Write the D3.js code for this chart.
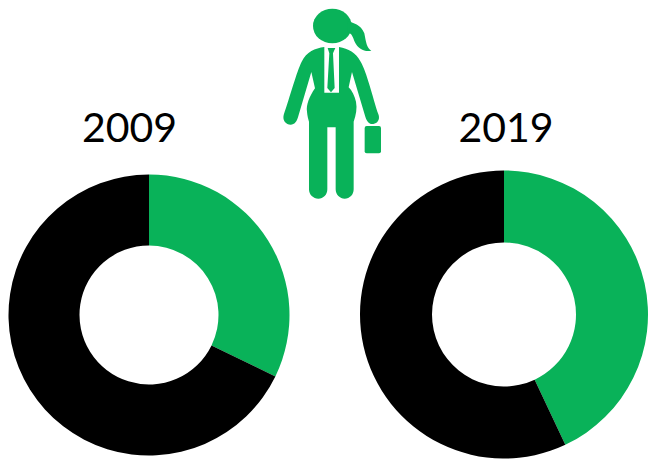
<!DOCTYPE html>
<html><head><meta charset="utf-8">
<script src="https://cdnjs.cloudflare.com/ajax/libs/d3/7.8.5/d3.min.js"></script>
<style>html,body{margin:0;padding:0;background:#fff}svg{display:block}</style>
</head><body>
<svg id="c" width="648" height="459"></svg>
<script>
const years = ["2009", "2019"];
const womenShare = [32.2, 43];
const otherShare = [67.8, 57];
const seriesColors = ["#09b259", "#000000"];
const cx = [149, 504];
const cy = [315, 314.5];
const outer = [140.5, 144];
const inner = [69.5, 72];
const titleX = [129.5, 506];

const svg = d3.select("#c");
const pie = d3.pie().sort(null);
years.forEach((y, i) => {
  const g = svg.append("g").attr("transform", `translate(${cx[i]},${cy[i]})`);
  const arc = d3.arc().innerRadius(inner[i]).outerRadius(outer[i]);
  g.selectAll("path").data(pie([womenShare[i], otherShare[i]])).join("path")
    .attr("d", arc).attr("fill", (d, j) => seriesColors[j]);
  svg.append("text").attr("x", titleX[i]).attr("y", 141.5)
    .attr("text-anchor", "middle").attr("font-family", "Lato").attr("font-weight", 400)
    .attr("font-size", 41).attr("fill", "#000").text(y);
});

// Pictogram of a woman with a briefcase
const icon = svg.append("g").attr("transform", "translate(270,0) scale(0.3333)").attr("fill", seriesColors[0]);
icon.append("ellipse").attr("cx", 187).attr("cy", 78).attr("rx", 58).attr("ry", 52);
icon.append("path").attr("d", "M232,62 C250,70 272,72 283,100 C288,125 290,145 304,152 C285,156 265,148 254,125 C248,110 246,100 234,98 Z");
icon.append("path").attr("d",
  "M163,141 C135,145 110,155 95,185 C80,215 60,290 41,345 C37,362 48,374 62,374 C74,374 80,365 84,352 L124,216 " +
  "L135,265 C118,290 108,315 111,335 C112,348 115,358 117,365 L117,568 C117,585 130,596 145,596 C160,596 172,585 172,568 " +
  "L172,382 L197,382 L197,568 C197,585 210,596 224,596 C239,596 251,585 251,568 L251,365 C258,345 262,325 258,305 " +
  "C254,288 246,272 236,262 L246,216 L286,350 C290,365 300,374 310,372 C322,370 330,360 326,345 C308,290 290,215 272,185 " +
  "C258,158 235,146 207,141 L207,278 L163,278 Z");
icon.append("path").attr("d", "M173,144 L196,144 L189,160 L194,264 L183,277 L172,264 L178,160 Z");
icon.append("rect").attr("x", 284).attr("y", 378).attr("width", 49).attr("height", 82).attr("rx", 6);
</script>
</body></html>
